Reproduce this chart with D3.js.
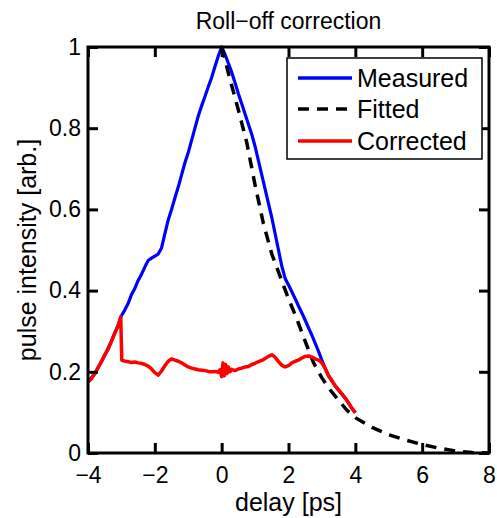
<html>
<head>
<meta charset="utf-8">
<title>Roll-off correction</title>
<script src="https://d3js.org/d3.v7.min.js"></script>
<style>
  body { margin: 0; background: #fff; }
  text { font-family: "Liberation Sans", Arial, Helvetica, sans-serif; fill: #000; }
</style>
</head>
<body>
<div id="chart"></div>
<script>

// measured pulse (blue), sampled every 0.1 ps from -4 to 4
var measuredT = d3.range(-40, 41).map(function(i){ return i / 10; });
var measuredY = [0.175, 0.185, 0.195, 0.21, 0.225, 0.24, 0.258, 0.275, 0.295, 0.315,
  0.338, 0.352, 0.368, 0.39, 0.405, 0.425, 0.44, 0.458, 0.474, 0.48,
  0.485, 0.49, 0.505, 0.54, 0.574, 0.60, 0.628, 0.655, 0.685, 0.715,
  0.74, 0.77, 0.80, 0.83, 0.855, 0.878, 0.902, 0.925, 0.952, 0.978,
  1.0, 0.982, 0.96, 0.938, 0.912, 0.885, 0.86, 0.835, 0.81, 0.785,
  0.755, 0.72, 0.685, 0.65, 0.615, 0.58, 0.54, 0.50, 0.46, 0.43,
  0.414, 0.397, 0.38, 0.362, 0.345, 0.327, 0.308, 0.29, 0.27, 0.25,
  0.228, 0.208, 0.19, 0.178, 0.165, 0.155, 0.145, 0.135, 0.123, 0.11, 0.099];

// fitted roll-off (black dashed)
var fittedT = [0, 0.25, 0.5, 0.75, 1.0, 1.25, 1.5, 1.75, 2.0, 2.25, 2.5, 2.75, 3.0, 3.25,
  3.5, 3.75, 4.0, 4.5, 5.0, 5.5, 6.0, 6.5, 7.0, 7.5, 8.0];
var fittedY = [1.0, 0.92, 0.845, 0.765, 0.66, 0.565, 0.49, 0.435, 0.38, 0.33, 0.275, 0.222, 0.185, 0.155,
  0.13, 0.105, 0.087, 0.063, 0.045, 0.032, 0.021, 0.012, 0.005, 0.001, 0];

// corrected pulse (red)
var correctedT = [-4.0, -3.9, -3.8, -3.7, -3.6, -3.5, -3.4, -3.3, -3.2, -3.1, -3.02, -2.99,
  -2.9, -2.8, -2.7, -2.6, -2.5, -2.4, -2.3, -2.2, -2.1, -2.0, -1.9, -1.8, -1.7, -1.6,
  -1.5, -1.4, -1.3, -1.2, -1.1, -1.0, -0.9, -0.8, -0.7, -0.6, -0.5, -0.4, -0.3, -0.2,
  -0.1, -0.05, 0.0, 0.04, 0.08, 0.12, 0.16, 0.2, 0.25, 0.3, 0.4, 0.5, 0.6, 0.7, 0.8, 0.9,
  1.0, 1.1, 1.2, 1.3, 1.4, 1.5, 1.6, 1.7, 1.8, 1.9, 2.0, 2.1, 2.2, 2.3, 2.4, 2.5,
  2.6, 2.7, 2.8, 2.9, 3.0, 3.1, 3.2, 3.3, 3.4, 3.5, 3.6, 3.7, 3.8, 3.9, 4.0];
var correctedY = [0.175, 0.183, 0.195, 0.21, 0.225, 0.242, 0.255, 0.275, 0.295, 0.312, 0.335, 0.229,
  0.226, 0.225, 0.223, 0.224, 0.222, 0.221, 0.218, 0.214, 0.207, 0.198, 0.192, 0.202, 0.215, 0.226,
  0.232, 0.229, 0.226, 0.222, 0.217, 0.212, 0.209, 0.207, 0.205, 0.204, 0.203, 0.201, 0.2, 0.201,
  0.199, 0.205, 0.188, 0.222, 0.19, 0.218, 0.196, 0.212, 0.2, 0.206, 0.203, 0.207, 0.209, 0.212, 0.213, 0.218,
  0.221, 0.225, 0.228, 0.233, 0.238, 0.242, 0.236, 0.225, 0.216, 0.212, 0.215, 0.222, 0.226, 0.229, 0.234, 0.238,
  0.239, 0.236, 0.232, 0.229, 0.222, 0.208, 0.19, 0.178, 0.165, 0.155, 0.145, 0.135, 0.123, 0.11, 0.099];

var xTicks = [-4, -2, 0, 2, 4, 6, 8];
var yTicks = [0, 0.2, 0.4, 0.6, 0.8, 1];
var seriesNames = ["Measured", "Fitted", "Corrected"];

var width = 497, height = 518;
var plotL = 88, plotR = 489, plotT = 47, plotB = 453;

var svg = d3.select("#chart").append("svg")
  .attr("width", width)
  .attr("height", height);

var x = d3.scaleLinear().domain([-4, 8]).range([plotL, plotR]);
var y = d3.scaleLinear().domain([0, 1]).range([plotB, plotT]);

var line = d3.line()
  .x(function(d){ return x(d[0]); })
  .y(function(d){ return y(d[1]); });

function pairs(ts, vs) { return ts.map(function(t, i){ return [t, vs[i]]; }); }

var plot = svg.append("g");

plot.append("path")
  .attr("d", line(pairs(measuredT, measuredY)))
  .attr("fill", "none").attr("stroke", "#0000ff")
  .attr("stroke-width", 3.2).attr("stroke-linejoin", "round");

plot.append("path")
  .attr("d", line(pairs(fittedT, fittedY)))
  .attr("fill", "none").attr("stroke", "#000")
  .attr("stroke-width", 3.5).attr("stroke-dasharray", "11,8");

plot.append("path")
  .attr("d", line(pairs(correctedT, correctedY)))
  .attr("fill", "none").attr("stroke", "#ff0000")
  .attr("stroke-width", 3.5).attr("stroke-linejoin", "round");

// axes: ticks inside on all four sides
var tickLen = 10;
svg.append("g").attr("transform", "translate(0," + plotB + ")")
  .call(d3.axisBottom(x).tickValues(xTicks).tickSize(-tickLen).tickPadding(14)
    .tickFormat(function(d){ return d < 0 ? "\u2212" + Math.abs(d) : d; }));
svg.append("g").attr("transform", "translate(0," + plotT + ")")
  .call(d3.axisTop(x).tickValues(xTicks).tickSize(-tickLen).tickFormat(""));
svg.append("g").attr("transform", "translate(" + plotL + ",0)")
  .call(d3.axisLeft(y).tickValues(yTicks).tickSize(-tickLen).tickPadding(7)
    .tickFormat(function(d){ return d; }));
svg.append("g").attr("transform", "translate(" + plotR + ",0)")
  .call(d3.axisRight(y).tickValues(yTicks).tickSize(-tickLen).tickFormat(""));

svg.selectAll(".domain").remove();
svg.selectAll(".tick line").attr("stroke", "#000").attr("stroke-width", 3);
svg.selectAll(".tick text").style("font-size", "23px").attr("fill", "#000");

svg.append("rect")
  .attr("x", plotL).attr("y", plotT)
  .attr("width", plotR - plotL).attr("height", plotB - plotT)
  .attr("fill", "none").attr("stroke", "#000").attr("stroke-width", 3);

// labels
svg.append("text").attr("x", (plotL + plotR) / 2).attr("y", 29)
  .attr("text-anchor", "middle").style("font-size", "23px")
  .text("Roll\u2212off correction");
svg.append("text").attr("x", (plotL + plotR) / 2).attr("y", 511)
  .attr("text-anchor", "middle").style("font-size", "25px")
  .text("delay [ps]");
svg.append("text")
  .attr("transform", "translate(36," + (plotT + plotB) / 2 + ") rotate(-90)")
  .attr("text-anchor", "middle").style("font-size", "25px")
  .text("pulse intensity [arb.]");

// legend
var legend = svg.append("g");
legend.append("rect")
  .attr("x", 287).attr("y", 58).attr("width", 195).attr("height", 101)
  .attr("fill", "#fff").attr("stroke", "#000").attr("stroke-width", 1.5);
var legColors = ["#0000ff", "#000", "#ff0000"];
var legDash = [null, "11,8", null];
var legY = [78, 109, 141];
seriesNames.forEach(function(name, i){
  legend.append("line")
    .attr("x1", 298).attr("x2", 352).attr("y1", legY[i]).attr("y2", legY[i])
    .attr("stroke", legColors[i]).attr("stroke-width", 3.5)
    .attr("stroke-dasharray", legDash[i]);
  legend.append("text")
    .attr("x", 357).attr("y", legY[i]).attr("dy", "0.36em")
    .style("font-size", "25px")
    .text(name);
});

</script>
</body>
</html>
